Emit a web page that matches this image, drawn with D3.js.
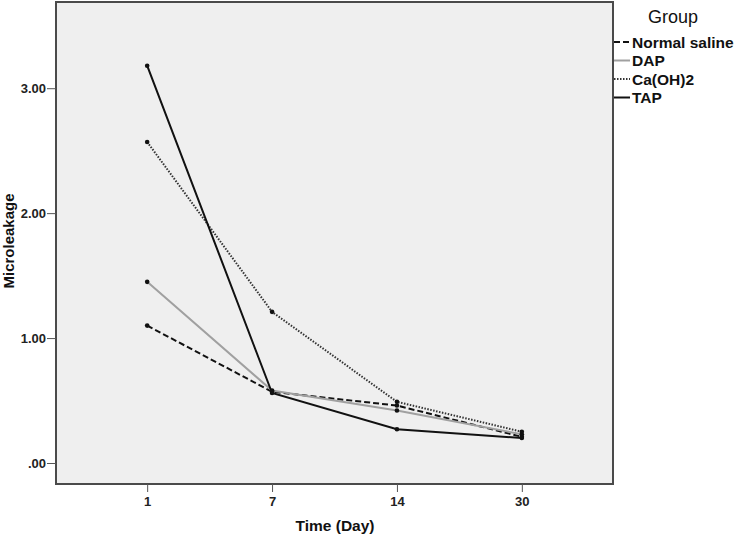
<!DOCTYPE html>
<html>
<head>
<meta charset="utf-8">
<script src="https://d3js.org/d3.v7.min.js"></script>
<style>
body { margin: 0; background: #fff; }
text { font-family: "Liberation Sans", Arial, sans-serif; }
</style>
</head>
<body>
<div id="chart"></div>
<script>
// data
var days = ["1", "7", "14", "30"];
var groups = ["Normal saline", "DAP", "Ca(OH)2", "TAP"];
var normalSaline = [1.10, 0.57, 0.46, 0.21];
var dap = [1.45, 0.58, 0.42, 0.23];
var caoh2 = [2.57, 1.21, 0.49, 0.25];
var tap = [3.18, 0.56, 0.27, 0.20];
var yTicks = [0, 1, 2, 3];

var series = [
  {name: groups[0], values: normalSaline, stroke: "#111", width: 2, dash: "6,3"},
  {name: groups[1], values: dap, stroke: "#a0a0a0", width: 2, dash: null},
  {name: groups[2], values: caoh2, stroke: "#333", width: 2, dash: "1.5,1.5"},
  {name: groups[3], values: tap, stroke: "#111", width: 2, dash: null}
];

var W = 735, H = 535;
var plot = {left: 56, top: 2, right: 613, bottom: 484};

var svg = d3.select("#chart").append("svg")
  .attr("width", W).attr("height", H);

var x = d3.scalePoint()
  .domain(days)
  .range([plot.left, plot.right])
  .padding(0.73);

var y = d3.scaleLinear()
  .domain([-0.168, 3.69])
  .range([plot.bottom, plot.top]);

// plot background
svg.append("rect")
  .attr("x", plot.left).attr("y", plot.top)
  .attr("width", plot.right - plot.left)
  .attr("height", plot.bottom - plot.top)
  .attr("fill", "#efefef")
  .attr("stroke", "#4a4a4a")
  .attr("stroke-width", 2);

// y axis
var yAxis = svg.append("g")
  .attr("transform", `translate(${plot.left},0)`)
  .call(d3.axisLeft(y).tickValues(yTicks).tickSize(9).tickSizeOuter(0)
    .tickFormat(d => d === 0 ? ".00" : d3.format(".2f")(d)));
yAxis.select(".domain").remove();
yAxis.selectAll("line").attr("stroke", "#555");
yAxis.selectAll("text")
  .style("font-size", "13px").style("font-weight", "bold").attr("fill", "#222")
  .attr("x", -10);

// x axis
var xAxis = svg.append("g")
  .attr("transform", `translate(0,${plot.bottom})`)
  .call(d3.axisBottom(x).tickSize(8).tickSizeOuter(0));
xAxis.select(".domain").remove();
xAxis.selectAll("line").attr("stroke", "#555");
xAxis.selectAll("text")
  .style("font-size", "13px").style("font-weight", "bold").attr("fill", "#222")
  .attr("y", 13);

// axis titles
svg.append("text")
  .attr("x", 335)
  .attr("y", 531)
  .attr("text-anchor", "middle")
  .style("font-size", "15.5px").style("font-weight", "bold")
  .attr("fill", "#111")
  .text("Time (Day)");

svg.append("text")
  .attr("transform", `translate(14,241) rotate(-90)`)
  .attr("text-anchor", "middle")
  .style("font-size", "15px").style("font-weight", "bold")
  .attr("fill", "#111")
  .text("Microleakage");

// lines
var line = d3.line()
  .x((d, i) => x(days[i]))
  .y(d => y(d));

svg.selectAll(".line")
  .data(series)
  .join("path")
  .attr("class", "line")
  .attr("fill", "none")
  .attr("stroke", d => d.stroke)
  .attr("stroke-width", d => d.width)
  .attr("stroke-dasharray", d => d.dash)
  .attr("d", d => line(d.values));

// point markers
series.forEach(function(s) {
  svg.selectAll(null)
    .data(s.values)
    .join("circle")
    .attr("cx", (d, i) => x(days[i]))
    .attr("cy", d => y(d))
    .attr("r", 2.3)
    .attr("fill", "#111");
});

// legend
svg.append("text")
  .attr("x", 648).attr("y", 23)
  .style("font-size", "18px")
  .attr("fill", "#111")
  .text("Group");

var legend = svg.selectAll(".legend-item")
  .data(series)
  .join("g")
  .attr("class", "legend-item")
  .attr("transform", (d, i) => `translate(614,${42 + i * 18.5})`);

legend.append("line")
  .attr("x1", 0).attr("x2", 16)
  .attr("stroke", d => d.stroke)
  .attr("stroke-width", d => d.width)
  .attr("stroke-dasharray", d => d.dash);

legend.append("text")
  .attr("x", 18).attr("y", 5.5)
  .style("font-size", "15.5px").style("font-weight", "bold")
  .attr("fill", "#111")
  .text(d => d.name);
</script>
</body>
</html>
